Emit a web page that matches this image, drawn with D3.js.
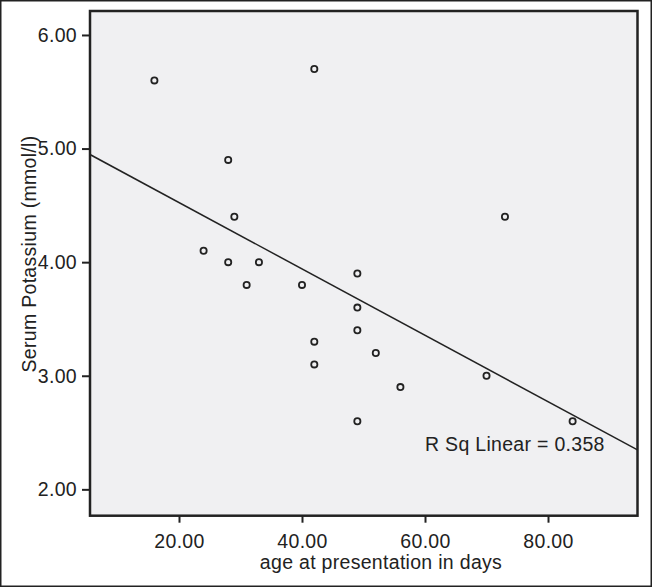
<!DOCTYPE html>
<html>
<head>
<meta charset="utf-8">
<script src="https://cdn.jsdelivr.net/npm/d3@7"></script>
<style>
  html, body { margin: 0; padding: 0; background: #fff; }
  svg text { font-family: "Liberation Sans", Arial, sans-serif; fill: #222; }
</style>
</head>
<body>
<svg id="chart" width="652" height="587"></svg>
<script>
// age at presentation (days) and serum potassium (mmol/l)
const ageDays = [16, 42, 28, 29, 24, 28, 33, 31, 40, 49, 49, 49, 42, 42, 52, 56, 49, 70, 73, 84];
const potassium = [5.6, 5.7, 4.9, 4.4, 4.1, 4.0, 4.0, 3.8, 3.8, 3.9, 3.6, 3.4, 3.3, 3.1, 3.2, 2.9, 2.6, 3.0, 4.4, 2.6];
const xTicks = [20, 40, 60, 80];
const yTicks = [2, 3, 4, 5, 6];
const rSqLabel = "R Sq Linear = 0.358";

const svg = d3.select("#chart");
const width = +svg.attr("width");
const height = +svg.attr("height");

const plot = { left: 90, right: 637.5, top: 11, bottom: 515.7 };

const x = d3.scaleLinear().domain([5.53, 94.55]).range([plot.left, plot.right]);
const y = d3.scaleLinear().domain([1.768, 6.211]).range([plot.bottom, plot.top]);

// outer border of the picture
svg.append("rect")
  .attr("x", 0.75).attr("y", 0.75)
  .attr("width", width - 1.5).attr("height", height - 1.5)
  .attr("fill", "#fff").attr("stroke", "#222").attr("stroke-width", 1.5);

// plot background
svg.append("rect")
  .attr("x", plot.left).attr("y", plot.top)
  .attr("width", plot.right - plot.left).attr("height", plot.bottom - plot.top)
  .attr("fill", "#f0f0f2");

svg.append("clipPath").attr("id", "clip")
  .append("rect")
  .attr("x", plot.left).attr("y", plot.top)
  .attr("width", plot.right - plot.left).attr("height", plot.bottom - plot.top);

const data = ageDays.map((d, i) => ({ age: d, k: potassium[i] }));

// least squares fit line
const mx = d3.mean(data, d => d.age);
const my = d3.mean(data, d => d.k);
const sxy = d3.sum(data, d => (d.age - mx) * (d.k - my));
const sxx = d3.sum(data, d => (d.age - mx) ** 2);
const slope = sxy / sxx;
const icpt = my - slope * mx;
const [x0, x1] = x.domain();

svg.append("line")
  .attr("clip-path", "url(#clip)")
  .attr("x1", x(x0)).attr("y1", y(icpt + slope * x0))
  .attr("x2", x(x1)).attr("y2", y(icpt + slope * x1))
  .attr("stroke", "#222").attr("stroke-width", 1.5);

svg.append("g")
  .selectAll("circle")
  .data(data)
  .join("circle")
  .attr("cx", d => x(d.age))
  .attr("cy", d => y(d.k))
  .attr("r", 3.1)
  .attr("fill", "none")
  .attr("stroke", "#222")
  .attr("stroke-width", 1.8);

// axes
const yAxis = svg.append("g")
  .attr("transform", `translate(${plot.left},0)`)
  .call(d3.axisLeft(y).tickValues(yTicks).tickFormat(d3.format(".2f")).tickSize(8).tickPadding(5));

const xAxis = svg.append("g")
  .attr("transform", `translate(0,${plot.bottom})`)
  .call(d3.axisBottom(x).tickValues(xTicks).tickFormat(d3.format(".2f")).tickSize(7).tickPadding(11));

[yAxis, xAxis].forEach(ax => {
  ax.select(".domain").remove();
  ax.selectAll(".tick line").attr("stroke", "#222").attr("stroke-width", 2);
  ax.selectAll(".tick text")
    .attr("fill", "#222")
    .style("font-size", "19.5px")
    .style("letter-spacing", "0.3px");
});

// plot frame
svg.append("rect")
  .attr("x", plot.left).attr("y", plot.top)
  .attr("width", plot.right - plot.left).attr("height", plot.bottom - plot.top)
  .attr("fill", "none").attr("stroke", "#222").attr("stroke-width", 2.5);

svg.append("text")
  .attr("x", 425).attr("y", 450.5)
  .style("font-size", "19.5px").style("letter-spacing", "0.3px")
  .text(rSqLabel);

svg.append("text")
  .attr("x", 381).attr("y", 569)
  .attr("text-anchor", "middle")
  .style("font-size", "19.5px").style("letter-spacing", "0.3px")
  .text("age at presentation in days");

svg.append("text")
  .attr("transform", "translate(36,254) rotate(-90)")
  .attr("text-anchor", "middle")
  .style("font-size", "19.5px").style("letter-spacing", "0.3px")
  .text("Serum Potassium (mmol/l)");
</script>
</body>
</html>
